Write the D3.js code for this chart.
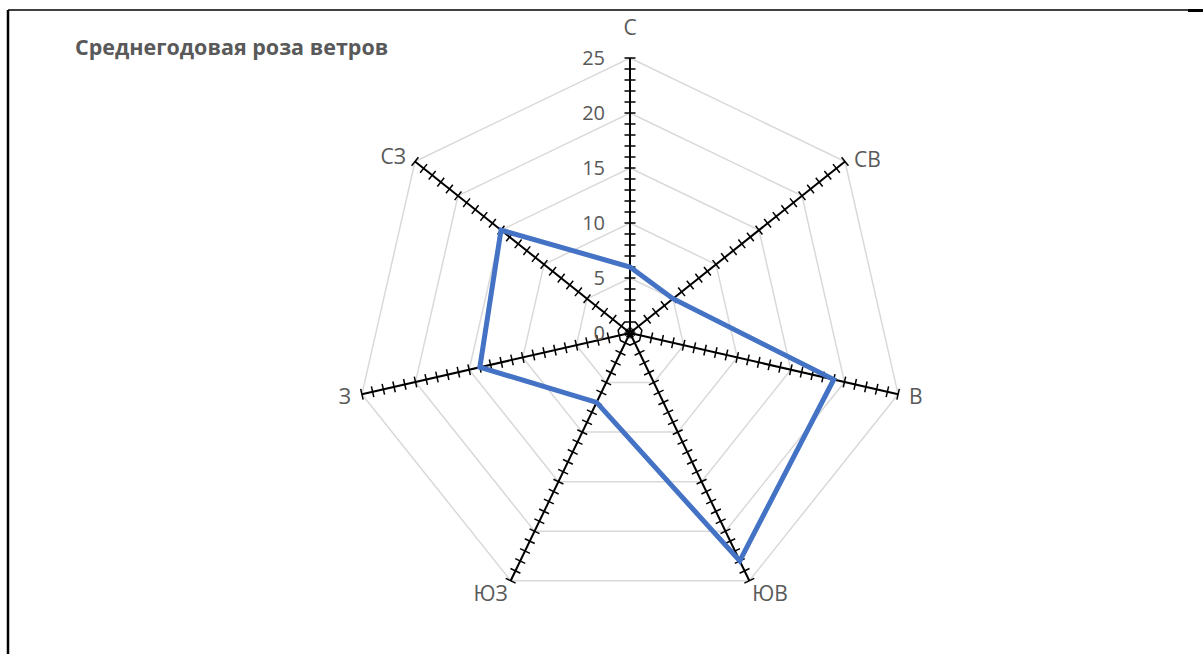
<!DOCTYPE html>
<html>
<head>
<meta charset="utf-8">
<script src="https://cdn.jsdelivr.net/npm/d3@7"></script>
<style>
  html, body { margin: 0; padding: 0; background: #fff; }
  svg { display: block; }
</style>
</head>
<body>
<svg id="chart" width="1203" height="654"></svg>
<script>
// Wind directions (clockwise from north) and annual frequencies, %
const directions = ["С", "СВ", "В", "ЮВ", "ЮЗ", "З", "СЗ"];
const frequency = [6, 5, 19, 23, 7, 14, 15];
const tickValues = [0, 5, 10, 15, 20, 25];
const title = "Среднегодовая роза ветров";

const svg = d3.select("#chart");
const W = 1203, H = 654;
const cx = 630, cy = 333, R = 275;
const maxVal = 25;
const font = "'Open Sans', sans-serif";
const textColor = "#595959";

// frame
svg.append("line").attr("x1", 8).attr("y1", 10).attr("x2", W).attr("y2", 10)
  .attr("stroke", "#000").attr("stroke-width", 1.5);
svg.append("line").attr("x1", 1188).attr("y1", 10.5).attr("x2", W).attr("y2", 10.5)
  .attr("stroke", "#000").attr("stroke-width", 3);
svg.append("line").attr("x1", 8).attr("y1", 10).attr("x2", 8).attr("y2", H)
  .attr("stroke", "#000").attr("stroke-width", 2.5);

svg.append("text")
  .attr("x", 75).attr("y", 55)
  .attr("font-family", font)
  .attr("font-weight", "bold")
  .attr("font-size", 21.5)
  .attr("fill", textColor)
  .text(title);

const r = d3.scaleLinear().domain([0, maxVal]).range([0, R]);
const angle = d3.scalePoint().domain(directions).range([0, 2 * Math.PI * (directions.length - 1) / directions.length]);
const pt = (dir, v) => {
  const a = angle(dir);
  return [cx + r(v) * Math.sin(a), cy - r(v) * Math.cos(a)];
};

const g = svg.append("g");

// grid heptagons
tickValues.filter(v => v > 0).forEach(v => {
  g.append("path")
    .attr("d", d3.line()(directions.map(d => pt(d, v))) + "Z")
    .attr("fill", "none")
    .attr("stroke", "#d9d9d9")
    .attr("stroke-width", 1.5);
});

// axes with minor ticks every 1 unit
const minorTicks = d3.range(0, maxVal + 1, 1);
directions.forEach(d => {
  const a = angle(d);
  const [x2, y2] = pt(d, maxVal);
  g.append("line").attr("x1", cx).attr("y1", cy).attr("x2", x2).attr("y2", y2)
    .attr("stroke", "#000").attr("stroke-width", 2);
  const px = Math.cos(a), py = Math.sin(a); // perpendicular direction
  g.selectAll(null).data(minorTicks).enter().append("line")
    .attr("x1", v => pt(d, v)[0] - px * 5.5)
    .attr("y1", v => pt(d, v)[1] - py * 5.5)
    .attr("x2", v => pt(d, v)[0] + px * 5.5)
    .attr("y2", v => pt(d, v)[1] + py * 5.5)
    .attr("stroke", "#000").attr("stroke-width", 1.5);
});

// value labels along the north axis
g.selectAll(null).data(tickValues).enter().append("text")
  .attr("x", cx - 25)
  .attr("y", v => cy - r(v))
  .attr("dy", "0.36em")
  .attr("text-anchor", "end")
  .attr("font-family", font)
  .attr("font-size", 20)
  .attr("fill", textColor)
  .text(v => v);

// direction labels, placed beside the outer end of each axis
const labelPlacement = {
  "С":  { dx: 0,   dy: -31, anchor: "middle" },
  "СВ": { dx: 9,   dy: -2,  anchor: "start" },
  "В":  { dx: 11,  dy: 2,   anchor: "start" },
  "ЮВ": { dx: 3,   dy: 13,  anchor: "start" },
  "ЮЗ": { dx: -3,  dy: 13,  anchor: "end" },
  "З":  { dx: -11, dy: 2,   anchor: "end" },
  "СЗ": { dx: -9,  dy: -5,  anchor: "end" }
};
directions.forEach(d => {
  const [x, y] = pt(d, maxVal);
  const p = labelPlacement[d];
  g.append("text")
    .attr("x", x + p.dx).attr("y", y + p.dy)
    .attr("dy", "0.36em")
    .attr("text-anchor", p.anchor)
    .attr("font-family", font)
    .attr("font-size", 21)
    .attr("fill", textColor)
    .text(d);
});

// data polygon
g.append("path")
  .attr("d", d3.line()(directions.map((d, i) => pt(d, frequency[i]))) + "Z")
  .attr("fill", "none")
  .attr("stroke", "#4472C4")
  .attr("stroke-width", 5)
  .attr("stroke-linejoin", "miter");
</script>
</body>
</html>
